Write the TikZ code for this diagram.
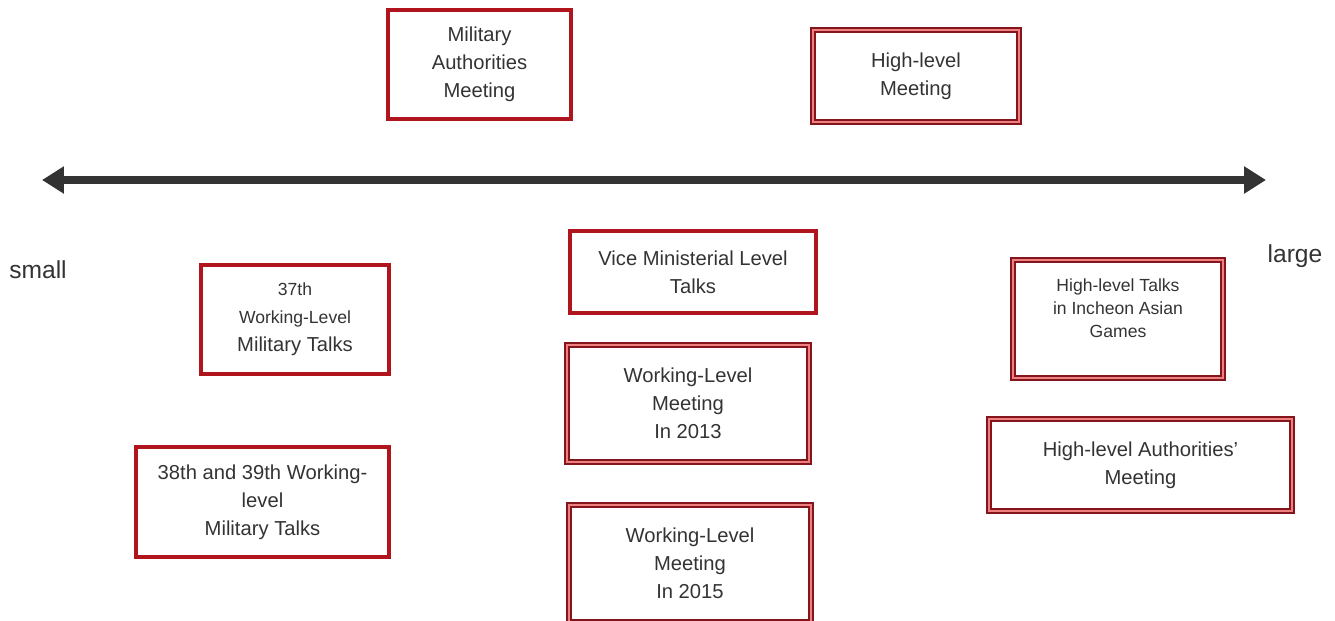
\documentclass[tikz,border=0pt]{standalone}
\usepackage{fontspec}
\setmainfont{Liberation Sans}
\usetikzlibrary{arrows.meta}
\definecolor{boxred}{RGB}{176,20,28}
\definecolor{boxdark}{RGB}{130,22,28}
\definecolor{boxpink}{RGB}{240,128,128}
\definecolor{textgray}{RGB}{51,51,51}
\colorlet{axisgray}{textgray}
\tikzset{
  plainbox/.style={draw=boxred,line width=1.8pt,align=center,inner sep=0pt,
    text=textgray,font=\fontsize{11.5}{16}\selectfont},
  doublebox/.style={draw=boxdark,line width=0.9pt,double=boxpink,double distance=1.5pt,
    align=center,inner sep=0pt,text=textgray,font=\fontsize{11.5}{16}\selectfont},
  endlabel/.style={text=textgray,font=\fontsize{14}{16}\selectfont}
}
\newcommand{\smalltxt}{\fontsize{10}{13}\selectfont}
\begin{document}
\begin{tikzpicture}[x=0.02cm,y=-0.02cm]
  \useasboundingbox (0,0) rectangle (1335,620);
  % scale axis
  \coordinate (leftend) at (42,180);
  \coordinate (rightend) at (1266,180);
  \draw[axisgray,line width=4pt,{Triangle[length=0.44cm,width=0.52cm]}-{Triangle[length=0.44cm,width=0.52cm]}] (leftend) -- (rightend);
  \node[endlabel] (small) at (38,270) {small};
  \node[endlabel] (large) at (1295,256) {large};
  % above the axis
  \node[plainbox,minimum width=3.66cm,minimum height=2.18cm] (milauth) at (479.5,64.5)
    {Military\\Authorities\\Meeting};
  \node[doublebox,minimum width=4.12cm,minimum height=1.84cm] (highmeet) at (916,76)
    {High-level\\Meeting};
  % left column
  \node[plainbox,minimum width=3.76cm,minimum height=2.18cm] (wlmt37) at (295,319.5)
    {{\smalltxt 37th}\\{\smalltxt Working-Level}\\Military Talks};
  \node[plainbox,minimum width=5.06cm,minimum height=2.2cm] (wlmt3839) at (262.5,502)
    {38th and 39th Working-\\level\\Military Talks};
  % middle column
  \node[plainbox,minimum width=4.92cm,minimum height=1.64cm] (vicemin) at (693,272)
    {Vice Ministerial Level\\Talks};
  \node[doublebox,minimum width=4.84cm,minimum height=2.34cm] (wlm2013) at (688,403.5)
    {Working-Level\\Meeting\\In 2013};
  \node[doublebox,minimum width=4.84cm,minimum height=2.34cm] (wlm2015) at (690,563.5)
    {Working-Level\\Meeting\\In 2015};
  % right column
  \node[doublebox,minimum width=4.2cm,minimum height=2.36cm] (incheon) at (1118,319) {};
  \node[text=textgray,align=center,font=\smalltxt] (incheontxt) at (1118,308)
    {High-level Talks\\in Incheon Asian\\Games};
  \node[doublebox,minimum width=6.06cm,minimum height=1.84cm] (highauth) at (1140.5,465)
    {High-level Authorities’\\Meeting};
\end{tikzpicture}
\end{document}
